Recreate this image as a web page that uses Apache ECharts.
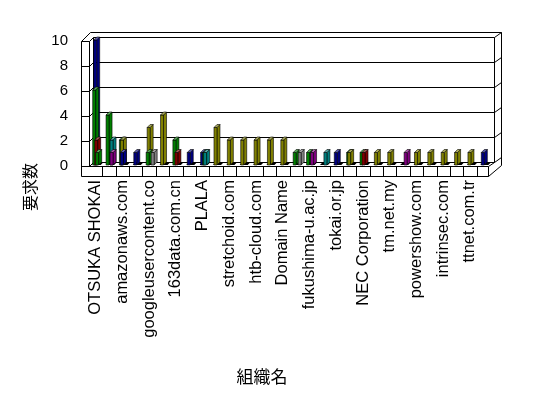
<!DOCTYPE html>
<html>
<head>
<meta charset="utf-8">
<script src="https://cdn.jsdelivr.net/npm/echarts@6.0.0/dist/echarts.min.js"></script>
<style>
  html, body { margin: 0; padding: 0; background: #fff; }
  #chart { width: 548px; height: 398px; }
</style>
</head>
<body>
<div id="chart"></div>
<script>
// 組織名 (only every other name is printed on the axis)
var categories = [
  'OTSUKA SHOKAI', '', 'amazonaws.com', '', 'googleusercontent.co', '',
  '163data.com.cn', '', 'PLALA', '', 'stretchoid.com', '', 'htb-cloud.com', '',
  'Domain Name', '', 'fukushima-u.ac.jp', '', 'tokai.or.jp', '', 'NEC Corporation', '',
  'tm.net.my', '', 'powershow.com', '', 'intrinsec.com', '', 'ttnet.com.tr', ''
];
var yTicks = [0, 2, 4, 6, 8, 10];

// 要求数 per series (one value per organisation)
var navyVals   = [10, 0, 1, 1, 0, 0, 0, 1, 1, 0, 0, 0, 0, 0, 0, 0, 0, 0, 1, 0, 0, 0, 0, 0, 0, 0, 0, 0, 0, 1];
var greenVals  = [6, 4, 2, 0, 1, 0, 2, 0, 0, 0, 0, 0, 0, 0, 0, 1, 1, 0, 0, 1, 1, 0, 0, 0, 0, 0, 0, 0, 0, 0];
var maroonVals = [2, 0, 0, 0, 0, 0, 1, 0, 0, 0, 0, 0, 0, 0, 0, 0, 0, 0, 0, 0, 1, 0, 0, 0, 0, 0, 0, 0, 0, 0];
var tealVals   = [0, 2, 0, 0, 0, 0, 0, 0, 1, 0, 0, 0, 0, 0, 0, 0, 0, 1, 0, 0, 0, 0, 0, 0, 0, 0, 0, 0, 0, 0];
var purpleVals = [0, 1, 0, 0, 0, 0, 0, 0, 0, 0, 0, 0, 0, 0, 0, 0, 1, 0, 0, 0, 0, 0, 0, 1, 0, 0, 0, 0, 0, 0];
var oliveVals  = [0, 0, 2, 0, 3, 4, 0, 0, 0, 3, 2, 2, 2, 2, 2, 0, 0, 0, 0, 1, 0, 1, 1, 0, 1, 1, 1, 1, 1, 0];
var grayVals   = [0, 0, 0, 0, 1, 0, 0, 0, 0, 0, 0, 0, 0, 0, 0, 1, 0, 0, 0, 0, 0, 0, 0, 0, 0, 0, 0, 0, 0, 0];
var green2Vals = [1, 0, 0, 0, 0, 0, 0, 0, 1, 0, 0, 0, 0, 0, 0, 0, 0, 0, 0, 0, 0, 0, 0, 0, 0, 0, 0, 0, 0, 0];

// plot box (front plane) and 3d look
var GL = 89, GT = 41, GW = 401, GH = 125;
var GR = GL + GW, GB = GT + GH;
var FW = 3, DX = 3, DY = 3;

function lighter(hex, k) {
  var n = parseInt(hex.slice(1), 16);
  var r = n >> 16, g = (n >> 8) & 255, b = n & 255;
  r = Math.round(r + (255 - r) * k); g = Math.round(g + (255 - g) * k); b = Math.round(b + (255 - b) * k);
  return 'rgb(' + r + ',' + g + ',' + b + ')';
}

// custom 3d-ish column
function bar3d(color, slot) {
  return function(params, api) {
    var i = api.value(0), v = api.value(1);
    var base = api.coord([i, 0]);
    var top = api.coord([i, v]);
    var x = base[0] + slot, b = base[1] - 1, t = top[1] - 1;
    if (!v) {
      return {
        type: 'polygon', z2: 1,
        shape: { points: [[x, b], [x + FW, b], [x + FW + DX, b - DY], [x + DX, b - DY]] },
        style: { fill: '#000' }
      };
    }
    var z = 1000 - v * 20 + slot;
    var st = { stroke: '#000', lineWidth: 0.6 };
    return {
      type: 'group',
      children: [
        { type: 'polygon', z2: z, shape: { points: [[x + FW, b], [x + FW, t], [x + FW + DX, t - DY], [x + FW + DX, b - DY]] },
          style: Object.assign({ fill: color }, st) },
        { type: 'rect', z2: z + 0.1, shape: { x: x, y: t, width: FW, height: b - t },
          style: Object.assign({ fill: color }, st) },
        { type: 'polygon', z2: z + 0.2, shape: { points: [[x, t], [x + FW, t], [x + FW + DX, t - DY], [x + DX, t - DY]] },
          style: Object.assign({ fill: lighter(color, 0.35) }, st) }
      ]
    };
  };
}

function makeSeries(name, vals, color, slot) {
  return {
    name: name,
    type: 'custom',
    renderItem: bar3d(color, slot),
    data: vals.map(function(v, i) { return [i, v]; }),
    encode: { x: 0, y: 1 },
    z: 5,
    silent: true
  };
}

var myChart = echarts.init(document.getElementById('chart'));

var option = {
  backgroundColor: '#fff',
  animation: false,
  grid: { left: GL, top: GT, width: GW, height: GH },
  xAxis: {
    type: 'category',
    data: categories,
    axisLine: { show: false },
    axisTick: { show: false },
    splitLine: { show: false },
    axisLabel: {
      interval: 1,
      rotate: 90,
      margin: 14,
      color: '#000',
      fontSize: 16.5,
      fontFamily: 'Liberation Sans, Arial, sans-serif'
    }
  },
  yAxis: {
    type: 'value',
    min: 0,
    max: yTicks[yTicks.length - 1],
    interval: 2,
    axisLine: { show: false },
    axisTick: { show: false },
    splitLine: { show: false },
    axisLabel: {
      margin: 21,
      color: '#000',
      fontSize: 15,
      fontFamily: 'Liberation Sans, Arial, sans-serif'
    }
  },
  series: [
    makeSeries('navy', navyVals, '#000080', -2),
    makeSeries('green', greenVals, '#008000', -3),
    makeSeries('maroon', maroonVals, '#800000', -1),
    makeSeries('teal', tealVals, '#008080', 1),
    makeSeries('purple', purpleVals, '#800080', 1),
    makeSeries('olive', oliveVals, '#808000', -2),
    makeSeries('gray', grayVals, '#808080', 2),
    makeSeries('green2', green2Vals, '#008000', 0)
  ]
};

myChart.setOption(option);

// frame: left wall, back wall, floor
var frame = [];
function seg(x1, y1, x2, y2) {
  frame.push({
    type: 'line', z: 1, silent: true,
    shape: { x1: Math.round(x1) + 0.5, y1: Math.round(y1) + 0.5, x2: Math.round(x2) + 0.5, y2: Math.round(y2) + 0.5 },
    style: { stroke: '#000', lineWidth: 1 }
  });
}
var BX = 4, BY = -4;      // back wall offset
var OX = 7, OY = -5;      // wall thickness offset
yTicks.forEach(function(v) {
  var y = myChart.convertToPixel({ yAxisIndex: 0 }, v);
  seg(GL - 8, y, GL, y);
  seg(GL, y, GL + BX, y + BY);
  seg(GL + BX, y + BY, GR + BX, y + BY);
  seg(GR + BX, y + BY, GR + BX + OX, y + BY + OY);
});
seg(GL - 8, GT, GL - 8, GB + 10);
seg(GL, GT, GL, GB);
seg(GL - 8, GT, GL + BX - 3, GT + BY + OY);
seg(GL + BX - 3, GT + BY + OY, GR + BX + OX, GT + BY + OY);
seg(GL + BX, GT + BY, GL + BX, GB + BY);
seg(GR + BX, GT + BY, GR + BX, GB + BY);
seg(GR + BX + OX, GT + BY + OY, GR + BX + OX, GB - 1);
// floor front
seg(GL - 8, GB, GR - 2, GB);
seg(GL - 8, GB + 10, GR - 2, GB + 10);
seg(GR - 2, GB, GR - 2, GB + 10);
seg(GR - 2, GB, GR + BX, GB + BY);
seg(GR - 2, GB + 10, GR + BX + OX, GB - 1);
for (var k = 1; k < categories.length; k++) {
  var xk = GL + k * GW / categories.length;
  seg(xk, GB, xk, GB + 10);
}

frame.push({
  type: 'text', x: 30, y: 187, rotation: Math.PI / 2, silent: true,
  style: { text: '要求数', fill: '#000', align: 'center', verticalAlign: 'middle',
           font: '16px "Noto Sans CJK JP", sans-serif' }
});
frame.push({
  type: 'text', x: 262, y: 377, silent: true,
  style: { text: '組織名', fill: '#000', align: 'center', verticalAlign: 'middle',
           font: '17px "Noto Sans CJK JP", sans-serif' }
});

myChart.setOption({ graphic: frame });
</script>
</body>
</html>
